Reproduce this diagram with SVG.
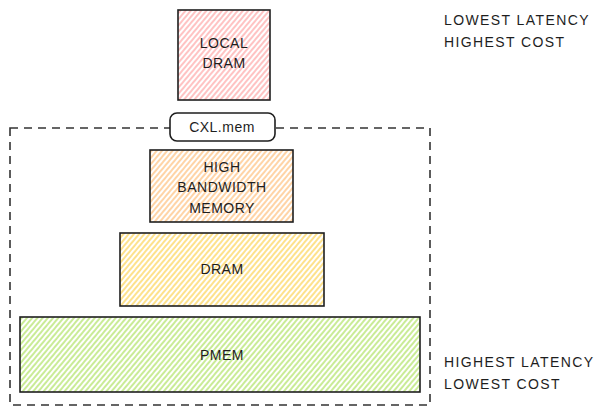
<svg xmlns="http://www.w3.org/2000/svg" width="606" height="416" viewBox="0 0 606 416">
<defs>
<pattern id="hRed" width="4" height="4" patternUnits="userSpaceOnUse" patternTransform="rotate(40)"><line x1="1" y1="0" x2="1" y2="4" stroke="#ff8787" stroke-width="1"/></pattern>
<pattern id="hOrange" width="4" height="4" patternUnits="userSpaceOnUse" patternTransform="rotate(40)"><line x1="1" y1="0" x2="1" y2="4" stroke="#ffa94d" stroke-width="1"/></pattern>
<pattern id="hYellow" width="4" height="4" patternUnits="userSpaceOnUse" patternTransform="rotate(40)"><line x1="1" y1="0" x2="1" y2="4" stroke="#fcc419" stroke-width="1"/></pattern>
<pattern id="hGreen" width="4" height="4" patternUnits="userSpaceOnUse" patternTransform="rotate(40)"><line x1="1" y1="0" x2="1" y2="4" stroke="#94d82d" stroke-width="1"/></pattern>
</defs>
<style>
.box{stroke:#1e1e1e;stroke-width:1.6}
.t{font-family:"Liberation Sans",Arial,sans-serif;font-size:14px;fill:#1e1e1e;text-anchor:middle;letter-spacing:0.5px}
.s{font-family:"Liberation Sans",Arial,sans-serif;font-size:14px;fill:#1e1e1e;letter-spacing:1.4px}
</style>
<rect width="606" height="416" fill="#ffffff"/>
<g id="container">
<rect x="10" y="128" width="420" height="277" fill="none" stroke="#333" stroke-width="1.6" stroke-dasharray="8 6"/>
</g>
<g id="local-dram">
<rect class="box" x="178" y="10" width="92" height="90" fill="url(#hRed)"/>
<text class="t" x="224" y="48">LOCAL</text>
<text class="t" x="224" y="68">DRAM</text>
</g>
<g id="cxl-mem">
<rect class="box" x="170" y="113" width="105" height="28" rx="7" fill="#ffffff"/>
<text class="t" x="222" y="132">CXL.mem</text>
</g>
<g id="hbm">
<rect class="box" x="150" y="150" width="143" height="72" fill="url(#hOrange)"/>
<text class="t" x="222" y="172">HIGH</text>
<text class="t" x="222" y="192">BANDWIDTH</text>
<text class="t" x="222" y="213">MEMORY</text>
</g>
<g id="dram">
<rect class="box" x="120" y="233" width="204" height="73" fill="url(#hYellow)"/>
<text class="t" x="222" y="274">DRAM</text>
</g>
<g id="pmem">
<rect class="box" x="20" y="317" width="400" height="75" fill="url(#hGreen)"/>
<text class="t" x="222" y="360">PMEM</text>
</g>
<g id="labels">
<text class="s" x="444" y="25">LOWEST LATENCY</text>
<text class="s" x="444" y="47">HIGHEST COST</text>
<text class="s" x="444" y="367">HIGHEST LATENCY</text>
<text class="s" x="444" y="389">LOWEST COST</text>
</g>
</svg>
